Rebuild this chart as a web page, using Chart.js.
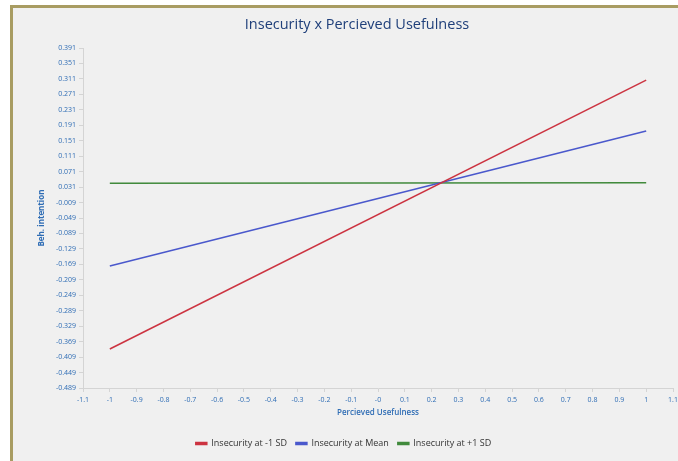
<!DOCTYPE html>
<html>
<head>
<meta charset="utf-8">
<script src="https://cdn.jsdelivr.net/npm/chart.js@4/dist/chart.umd.min.js"></script>
<style>
  html, body { margin: 0; padding: 0; background: #ffffff; }
  #c { display: block; }
</style>
</head>
<body>
<canvas id="c" width="678" height="461"></canvas>
<script>
// Simple-slopes data: predicted behavioural intention at the ends of the usefulness range
const usefulness = [-1, 1];
const insecurityLow = [-0.388, 0.308];
const insecurityMean = [-0.173, 0.176];
const insecurityHigh = [0.041, 0.042];
const seriesNames = ['Insecurity at -1 SD', 'Insecurity at Mean', 'Insecurity at +1 SD'];
const seriesColors = ['#cc3340', '#4a58cc', '#418a3c'];
const chartTitle = 'Insecurity x Percieved Usefulness';

// Axis tick values and their printed labels
const yTickValues = [0.391, 0.351, 0.311, 0.271, 0.231, 0.191, 0.151, 0.111, 0.071, 0.031,
  -0.009, -0.049, -0.089, -0.129, -0.169, -0.209, -0.249, -0.289, -0.329, -0.369, -0.409, -0.449, -0.489];
const yTickLabels = ['0.391', '0.351', '0.311', '0.271', '0.231', '0.191', '0.151', '0.111', '0.071', '0.031',
  '-0.009', '-0.049', '-0.089', '-0.129', '-0.169', '-0.209', '-0.249', '-0.289', '-0.329', '-0.369', '-0.409', '-0.449', '-0.489'];
const xTickValues = [-1.1, -1, -0.9, -0.8, -0.7, -0.6, -0.5, -0.4, -0.3, -0.2, -0.1, 0,
  0.1, 0.2, 0.3, 0.4, 0.5, 0.6, 0.7, 0.8, 0.9, 1, 1.1];
const xTickLabels = ['-1.1', '-1', '-0.9', '-0.8', '-0.7', '-0.6', '-0.5', '-0.4', '-0.3', '-0.2', '-0.1', '-0',
  '0.1', '0.2', '0.3', '0.4', '0.5', '0.6', '0.7', '0.8', '0.9', '1', '1.1'];

const seriesValues = [insecurityLow, insecurityMean, insecurityHigh];

const FONT = "'Open Sans', 'Noto Sans', sans-serif";
const AXIS_BLUE = '#2f6db5';
const AXIS_LINE = '#d4d4d4';

// Panel background and the olive frame along the top and left edges
const framePlugin = {
  id: 'frame',
  beforeDraw(chart) {
    const ctx = chart.ctx;
    ctx.save();
    ctx.fillStyle = '#ffffff';
    ctx.fillRect(0, 0, chart.width, chart.height);
    ctx.fillStyle = '#f0f0f0';
    ctx.fillRect(12, 7, chart.width - 12, chart.height - 7);
    ctx.fillStyle = '#a89c62';
    ctx.fillRect(10, 5, 3, chart.height - 5);
    ctx.fillRect(10, 5, chart.width - 10, 3);
    ctx.restore();
  }
};

// Heading drawn over the panel, centred on the framed area
const headingPlugin = {
  id: 'heading',
  afterDraw(chart) {
    const ctx = chart.ctx;
    ctx.save();
    ctx.fillStyle = '#1f3f7a';
    ctx.font = "14.5px " + FONT;
    ctx.textAlign = 'center';
    ctx.textBaseline = 'middle';
    ctx.fillText(chartTitle, 357, 25);
    ctx.restore();
  }
};

new Chart(document.getElementById('c'), {
  type: 'scatter',
  data: {
    datasets: seriesValues.map((vals, i) => ({
      label: seriesNames[i],
      data: usefulness.map((x, j) => ({ x: x, y: vals[j] })),
      showLine: true,
      borderColor: seriesColors[i],
      backgroundColor: seriesColors[i],
      borderWidth: 1.5,
      pointRadius: 0,
      pointHoverRadius: 0
    }))
  },
  options: {
    responsive: false,
    animation: false,
    devicePixelRatio: 1,
    layout: { padding: { left: 14, right: 5, top: 48, bottom: 3 } },
    plugins: {
      tooltip: { enabled: false },
      title: { display: false },
      legend: {
        position: 'bottom',
        labels: {
          color: '#333333',
          font: { family: FONT, size: 9 },
          boxWidth: 11,
          boxHeight: 2,
          padding: 9
        }
      }
    },
    scales: {
      x: {
        type: 'linear',
        min: -1.1,
        max: 1.1,
        afterBuildTicks(scale) { scale.ticks = xTickValues.map(v => ({ value: v })); },
        afterFit(scale) {
          scale.height = 42;
          scale.paddingLeft = 0;
          scale.paddingRight = 0;
        },
        ticks: {
          autoSkip: false,
          maxRotation: 0,
          color: AXIS_BLUE,
          font: { family: FONT, size: 7 },
          padding: 4,
          callback: (v, i) => xTickLabels[i]
        },
        grid: { drawOnChartArea: false, drawTicks: true, tickLength: 4, color: AXIS_LINE },
        border: { color: AXIS_LINE },
        title: {
          display: true,
          text: 'Percieved Usefulness',
          color: AXIS_BLUE,
          font: { family: FONT, size: 8, weight: '600' },
          padding: { top: 0, bottom: 12 }
        }
      },
      y: {
        type: 'linear',
        min: -0.489,
        max: 0.391,
        afterBuildTicks(scale) { scale.ticks = yTickValues.map(v => ({ value: v })); },
        afterFit(scale) { scale.width = 69; },
        ticks: {
          autoSkip: false,
          color: AXIS_BLUE,
          font: { family: FONT, size: 7 },
          padding: 3,
          callback: (v, i) => yTickLabels[i]
        },
        grid: { drawOnChartArea: false, drawTicks: true, tickLength: 4, color: AXIS_LINE },
        border: { color: AXIS_LINE },
        title: {
          display: true,
          text: 'Beh. intention',
          color: AXIS_BLUE,
          font: { family: FONT, size: 8, weight: 'bold' },
          padding: { top: 23, bottom: 0 }
        }
      }
    }
  },
  plugins: [framePlugin, headingPlugin]
});
</script>
</body>
</html>
